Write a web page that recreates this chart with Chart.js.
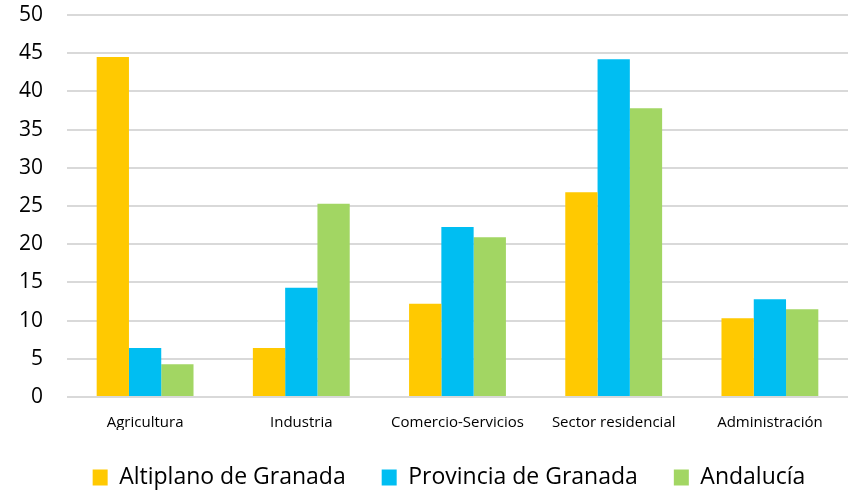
<!DOCTYPE html>
<html>
<head>
<meta charset="utf-8">
<script src="https://cdn.jsdelivr.net/npm/chart.js@4/dist/chart.umd.min.js"></script>
<style>
    html, body { margin: 0; padding: 0; background: #fff; }
    #wrap { width: 852px; height: 491px; }
</style>
</head>
<body>
<div id="wrap"><canvas id="sector-chart"></canvas></div>
<script>
// Data
const categories = ['Agricultura', 'Industria', 'Comercio-Servicios', 'Sector residencial', 'Administración'];
const altiplano = [44.5, 6.4, 12.2, 26.8, 10.3];
const provincia = [6.4, 14.3, 22.25, 44.2, 12.8];
const andalucia = [4.3, 25.3, 20.9, 37.8, 11.5];
const yTicks = [0, 5, 10, 15, 20, 25, 30, 35, 40, 45, 50];

const fontFamily = '"Open Sans", sans-serif';

// nudge the legend row to the right, as in the original
const legendShift = {
    id: 'legendShift',
    afterLayout(chart) {
        chart.legend.left += 25;
        chart.legend.right += 25;
    }
};

document.addEventListener('DOMContentLoaded', function () {
    const ctx = document.getElementById('sector-chart');
    new Chart(ctx, {
        type: 'bar',
        data: {
            labels: categories,
            datasets: [
                { label: 'Altiplano de Granada', data: altiplano, backgroundColor: '#FFC901' },
                { label: 'Provincia de Granada', data: provincia, backgroundColor: '#00BEF2' },
                { label: 'Andalucía', data: andalucia, backgroundColor: '#A2D663' }
            ]
        },
        plugins: [legendShift],
        options: {
            responsive: true,
            maintainAspectRatio: false,
            animation: false,
            categoryPercentage: 0.62,
            barPercentage: 1.0,
            layout: {
                padding: { left: 0, right: 4, top: 0, bottom: -8 }
            },
            plugins: {
                tooltip: { enabled: false },
                legend: {
                    position: 'bottom',
                    labels: {
                        color: '#000',
                        boxWidth: 15,
                        boxHeight: 16,
                        padding: 36,
                        font: { family: fontFamily, size: 23 }
                    }
                }
            },
            scales: {
                y: {
                    min: 0,
                    max: 50,
                    afterBuildTicks: function (axis) {
                        axis.ticks = yTicks.map(v => ({ value: v }));
                    },
                    afterFit: function (scale) {
                        // tick padding is horizontal only here
                        scale.width = 67;
                        scale.paddingTop = 15;
                        scale.paddingBottom = 0;
                    },
                    border: { display: false },
                    grid: {
                        color: '#d9d9d9',
                        lineWidth: 2,
                        drawTicks: false
                    },
                    ticks: {
                        color: '#000',
                        padding: 24,
                        font: { family: fontFamily, size: 21 }
                    }
                },
                x: {
                    afterFit: function (scale) {
                        scale.height = 33;
                    },
                    border: { display: false },
                    grid: { display: false },
                    ticks: {
                        color: '#000',
                        padding: 9,
                        maxRotation: 0,
                        font: { family: fontFamily, size: 15 }
                    }
                }
            }
        }
    });
});
</script>
</body>
</html>
